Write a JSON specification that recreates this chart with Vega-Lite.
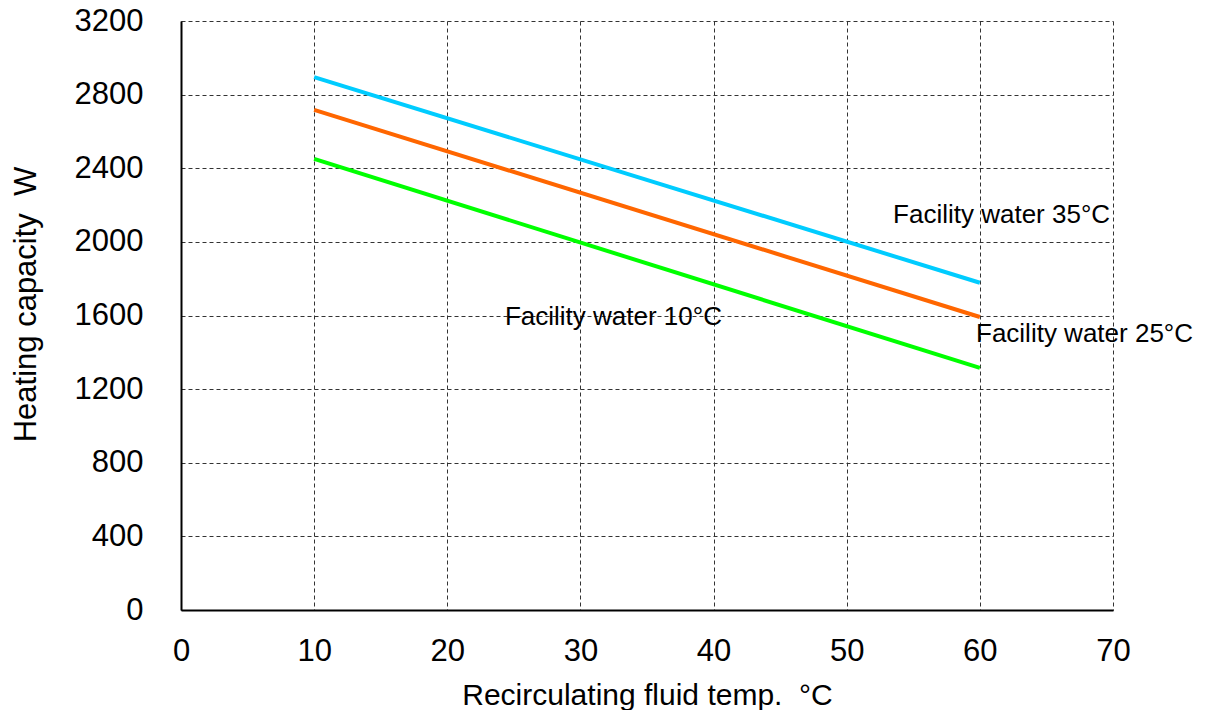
{
  "$schema": "https://vega.github.io/schema/vega-lite/v6.json",
  "autosize": "none",
  "width": 932,
  "height": 589,
  "padding": {"left": 181, "top": 21, "right": 99, "bottom": 100},
  "background": "white",
  "config": {
    "view": {"stroke": null},
    "font": "Liberation Sans"
  },
  "datasets": {
    "lines": [
      {"series": "35", "temp": 10, "cap": 2895},
      {"series": "35", "temp": 60, "cap": 1778},
      {"series": "25", "temp": 10, "cap": 2717},
      {"series": "25", "temp": 60, "cap": 1592},
      {"series": "10", "temp": 10, "cap": 2451},
      {"series": "10", "temp": 60, "cap": 1315}
    ],
    "labels": [
      {"text": "Facility water 35°C", "temp": 53.48, "cap": 2103},
      {"text": "Facility water 25°C", "temp": 59.71, "cap": 1456},
      {"text": "Facility water 10°C", "temp": 24.33, "cap": 1548}
    ]
  },
  "layer": [
    {
      "data": {"name": "lines"},
      "mark": {"type": "line", "strokeWidth": 4, "clip": false},
      "encoding": {
        "x": {
          "field": "temp", "type": "quantitative",
          "scale": {"domain": [0, 70], "nice": false},
          "axis": {
            "values": [0, 10, 20, 30, 40, 50, 60, 70],
            "title": "Recirculating fluid temp.\u00a0 °C",
            "titleFontSize": 30, "titleFontWeight": "normal", "titleColor": "black",
            "titleY": 94, "titleBaseline": "alphabetic",
            "labelFontSize": 31, "labelColor": "black", "labelPadding": 50,
            "labelBaseline": "alphabetic",
            "labelFlush": false,
            "ticks": false,
            "domainColor": "black", "domainWidth": 2,
            "grid": true, "gridColor": "#333333", "gridDash": [4, 3], "gridWidth": 1, "gridOpacity": 1
          }
        },
        "y": {
          "field": "cap", "type": "quantitative",
          "scale": {"domain": [0, 3200], "nice": false},
          "axis": {
            "values": [0, 400, 800, 1200, 1600, 2000, 2400, 2800, 3200],
            "format": "d",
            "title": "Heating capacity\u00a0 W",
            "titleFontSize": 31, "titleFontWeight": "normal", "titleColor": "black",
            "titleX": -146, "titleY": 283, "titleBaseline": "alphabetic",
            "labelFontSize": 31, "labelColor": "black", "labelPadding": 38,
            "labelFlush": false,
            "ticks": false,
            "domainColor": "black", "domainWidth": 2,
            "grid": true, "gridColor": "#333333", "gridDash": [4, 3], "gridWidth": 1, "gridOpacity": 1
          }
        },
        "color": {
          "field": "series", "type": "nominal",
          "scale": {"domain": ["35", "25", "10"], "range": ["#00CCFF", "#FF6600", "#00FF00"]},
          "legend": null
        }
      }
    },
    {
      "data": {"name": "labels"},
      "mark": {"type": "text", "align": "left", "baseline": "alphabetic", "fontSize": 26, "color": "black", "clip": false},
      "encoding": {
        "x": {"field": "temp", "type": "quantitative"},
        "y": {"field": "cap", "type": "quantitative"},
        "text": {"field": "text"}
      }
    }
  ]
}
